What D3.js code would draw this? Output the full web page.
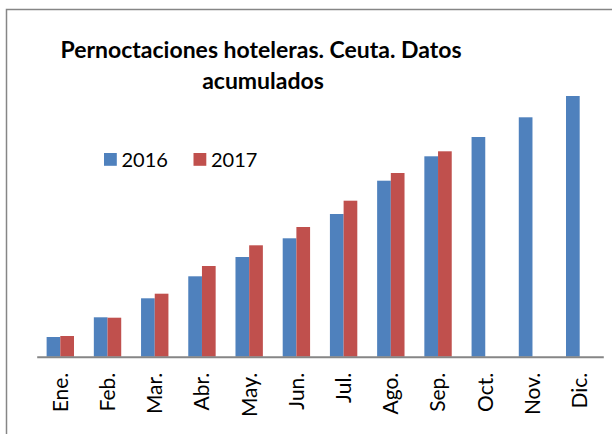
<!DOCTYPE html>
<html>
<head>
  <meta charset="utf-8">
  <script src="https://d3js.org/d3.v7.min.js"></script>
  <style>
    body { margin: 0; background: #fff; }
    svg { display: block; }
    .title { font-family: Lato, "Open Sans", sans-serif; font-weight: bold; font-size: 23px; text-anchor: middle; fill: #000; }
    .legend text { font-family: Lato, sans-serif; font-size: 20px; fill: #000; }
    .x-axis text { font-family: Lato, sans-serif; font-size: 21px; fill: #000; }
    .x-axis path { stroke: #868686; stroke-width: 2px; }
  </style>
</head>
<body>
  <div id="chart"></div>
  <script>
    const months = ["Ene.", "Feb.", "Mar.", "Abr.", "May.", "Jun.", "Jul.", "Ago.", "Sep.", "Oct.", "Nov.", "Dic."];
    const series = ["2016", "2017"];
    // accumulated overnight stays (estimated, no axis in original)
    const values2016 = [9850, 19700, 29200, 40200, 49850, 59200, 71350, 88000, 100200, 109850, 119700, 130350];
    const values2017 = [10350, 19500, 31500, 45350, 55700, 64850, 78000, 91850, 102700];
    const colors = ["#4F81BD", "#C0504D"];

    const W = 612, H = 434;
    const plot = {left: 36.7, right: 603.3, top: 76.7, bottom: 356.7};

    const svg = d3.select("#chart").append("svg")
      .attr("width", W)
      .attr("height", H);

    // chart border
    svg.append("rect")
      .attr("x", 6.5).attr("y", 9.5)
      .attr("width", 640).attr("height", 460)
      .attr("fill", "none")
      .attr("stroke", "#868686")
      .attr("stroke-width", 1.5);

    const data = months.map((m, i) => ({
      month: m,
      vals: [values2016[i], values2017[i]]
    }));

    const x = d3.scaleBand()
      .domain(months)
      .range([plot.left, plot.right])
      .paddingInner(0.42)
      .paddingOuter(0.21);

    const xs = d3.scaleBand()
      .domain(series)
      .range([0, x.bandwidth()]);

    const y = d3.scaleLinear()
      .domain([0, 140000])
      .range([plot.bottom, plot.top]);

    // bars
    const groups = svg.append("g")
      .selectAll("g")
      .data(data)
      .join("g")
        .attr("transform", d => `translate(${x(d.month)},0)`);

    groups.selectAll("rect")
      .data(d => d.vals.map((v, j) => ({key: series[j], v, j})).filter(e => e.v != null))
      .join("rect")
        .attr("x", e => xs(e.key))
        .attr("y", e => y(e.v))
        .attr("width", xs.bandwidth())
        .attr("height", e => y(0) - y(e.v))
        .attr("fill", e => colors[e.j]);

    // x axis
    const xAxis = svg.append("g")
      .attr("class", "x-axis")
      .attr("transform", `translate(0,${y(0)})`)
      .call(d3.axisBottom(x).tickSize(0).tickSizeOuter(0));

    xAxis.selectAll("text")
      .attr("transform", "rotate(-90)")
      .attr("text-anchor", "end")
      .attr("x", -16)
      .attr("y", 0)
      .attr("dy", "0.35em");

    // title
    const title = svg.append("text").attr("class", "title");
    title.append("tspan").attr("x", 261).attr("y", 58).text("Pernoctaciones hoteleras. Ceuta. Datos");
    title.append("tspan").attr("x", 263).attr("y", 89).text("acumulados");

    // legend
    const legend = svg.append("g").attr("class", "legend");
    const legendX = [104, 193.5];
    series.forEach((s, i) => {
      legend.append("rect")
        .attr("x", legendX[i]).attr("y", 153)
        .attr("width", 12.8).attr("height", 12.8)
        .attr("fill", colors[i]);
      legend.append("text")
        .attr("x", legendX[i] + 17.5).attr("y", 166.5)
        .text(s);
    });
  </script>
</body>
</html>
